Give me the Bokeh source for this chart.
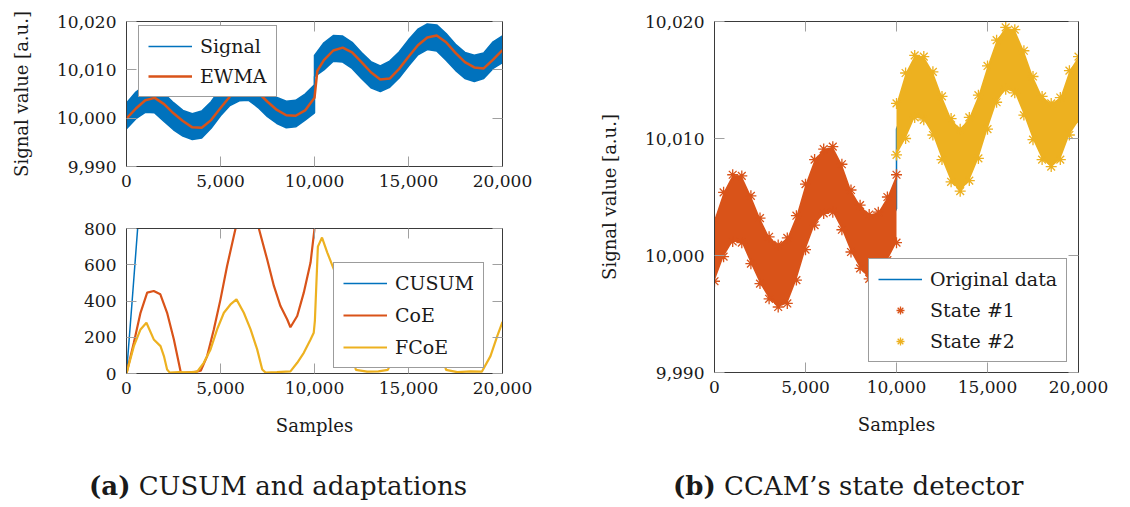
from bokeh.plotting import figure
from bokeh.models import (Range1d, LinearAxis, NumeralTickFormatter, FixedTicker, Div,
                          Legend, LegendItem, CustomJSTickFormatter, ColumnDataSource)
from bokeh.layouts import row, column
from bokeh.embed import file_html
from bokeh.resources import INLINE

FONT = "DejaVu Serif"
TXT = "#1a1a1a"
FRAME = "#3a3a3a"
TICK = "#a0a0a0"
BLUE = "#0072BD"
ORANGE = "#D95319"
YELLOW = "#EDB120"

# ---------------- data ----------------
# signal envelope, state #1 (samples 0..10000) and state #2 (10000..20000)
state1_x = [0, 500, 1000, 1500, 2000, 2500, 3000, 3500, 4000, 4500, 5000,
            5500, 6000, 6500, 7000, 7500, 8000, 8500, 9000, 9500, 10000]
state1_hi = [10003.1, 10005.4, 10006.9, 10006.8, 10005.1, 10003.2, 10001.6, 10000.9, 10001.5, 10003.4, 10006.1,
             10008.2, 10009.1, 10009.3, 10007.8, 10005.6, 10004.3, 10003.5, 10003.7, 10005.0, 10006.9]
state1_lo = [9997.8, 9999.9, 10001.2, 10001.1, 9999.3, 9997.6, 9996.3, 9995.6, 9995.9, 9997.9, 10000.5,
             10002.6, 10003.6, 10003.7, 10002.2, 10000.3, 9998.9, 9998.0, 9998.2, 9999.6, 10001.1]
state2_x = [10000, 10500, 11000, 11500, 12000, 12500, 13000, 13500, 14000, 14500, 15000,
            15500, 16000, 16500, 17000, 17500, 18000, 18500, 19000, 19500, 20000]
state2_hi = [10013.0, 10015.6, 10017.1, 10017.0, 10015.7, 10013.6, 10011.7, 10010.8, 10011.8, 10013.7, 10016.2,
             10018.4, 10019.5, 10019.3, 10017.5, 10015.3, 10013.6, 10013.0, 10013.5, 10015.8, 10017.0]
state2_lo = [10008.6, 10010.0, 10011.8, 10011.6, 10010.3, 10008.2, 10006.3, 10005.5, 10006.4, 10008.3, 10010.8,
             10013.1, 10014.2, 10013.9, 10012.0, 10009.9, 10008.2, 10007.6, 10008.2, 10010.3, 10011.5]

ewma_x = [0, 500, 1000, 1500, 2000, 2500, 3000, 3500, 4000, 4500, 5000, 5500, 6000, 6500, 7000,
          7500, 8000, 8500, 9000, 9500, 10000, 10150, 10500, 11000, 11500, 12000, 12500, 13000,
          13500, 14000, 14500, 15000, 15500, 16000, 16500, 17000, 17500, 18000, 18500, 19000,
          19500, 20000]
ewma_y = [9999.9, 10002.0, 10003.7, 10004.2, 10002.9, 10001.0, 9999.4, 9998.1, 9998.0, 9999.6,
          10002.1, 10004.5, 10006.0, 10006.3, 10005.3, 10003.4, 10001.7, 10000.6, 10000.5, 10001.6,
          10004.2, 10009.8, 10012.0, 10014.0, 10014.6, 10013.6, 10011.6, 10009.5, 10008.0, 10008.2,
          10010.2, 10012.7, 10015.1, 10016.7, 10017.1, 10015.7, 10013.5, 10011.6, 10010.5, 10010.3,
          10012.1, 10014.1]

cusum_x = [0, 300, 600, 900]
cusum_y = [0, 400, 810, 1220]

coe_x = [0, 390, 745, 1100, 1450, 1800, 2160, 2520, 2900, 3200, 3600, 3950, 4290, 4645, 5000,
         5350, 5800, 6400, 7040, 7480, 7840, 8190, 8550, 8720, 9080, 9430, 9790, 9990, 10100]
coe_y = [0, 170, 335, 446, 455, 437, 335, 188, 0, 5, 8, 15, 96, 243, 409,
         593, 800, 960, 800, 630, 483, 372, 298, 255, 317, 446, 612, 790, 1700]

fcoe_x = [0, 390, 745, 1060, 1450, 1810, 1990, 2160, 2300, 2800, 3300, 3760, 4110, 4470, 4820,
          5180, 5530, 5850, 6240, 6600, 6950, 7220, 7400, 8000, 8720, 9080, 9430, 9790, 9960,
          10020, 10180, 10400, 10680, 11030, 11600, 12200, 12800, 13400, 13900, 14500, 15300,
          15800, 16400, 17000, 17600, 18300, 18900, 19360, 19720, 20000]
fcoe_y = [0, 151, 243, 280, 188, 151, 96, 22, 5, 8, 6, 10, 59, 133, 243,
          335, 381, 409, 335, 243, 133, 22, 5, 8, 12, 59, 114, 188, 225,
          290, 700, 750, 667, 575, 300, 20, 10, 12, 20, 150, 380,
          420, 250, 20, 8, 12, 10, 96, 206, 285]

x_ticks = [0, 5000, 10000, 15000, 20000]
sig_ticks = [9990, 10000, 10010, 10020]
det_ticks = [0, 200, 400, 600, 800]

caption_a = ("(a)", "CUSUM and adaptations")
caption_b = ("(b)", "CCAM\u2019s state detector")


# ---------------- helpers ----------------
def make_fig(width, height, yr, left, right, top, bottom):
    p = figure(width=width, height=height, x_range=Range1d(0, 20000), y_range=Range1d(*yr),
               output_backend="svg", toolbar_location=None,
               min_border_left=left, min_border_right=right,
               min_border_top=top, min_border_bottom=bottom)
    p.xgrid.visible = False
    p.ygrid.visible = False
    p.outline_line_color = FRAME
    p.background_fill_color = "white"
    p.border_fill_color = "white"
    return p


def style_axis(ax, ticks, fmt, labels=True):
    ax.ticker = FixedTicker(ticks=ticks)
    ax.formatter = fmt if labels else CustomJSTickFormatter(code="return ''")
    ax.major_tick_in = 10
    ax.major_tick_out = 0
    ax.minor_tick_line_color = None
    ax.major_tick_line_color = TICK
    ax.major_tick_line_width = 1
    ax.axis_line_color = FRAME
    ax.axis_line_width = 1
    ax.major_label_text_font = FONT
    ax.major_label_text_font_size = "17px"
    ax.major_label_text_color = TXT
    ax.axis_label_text_font = FONT
    ax.axis_label_text_font_size = "18px"
    ax.axis_label_text_font_style = "normal"
    ax.axis_label_text_color = TXT


def all_axes(p, yticks, yfmt, xlabel=None, ylabel=None):
    style_axis(p.xaxis[0], x_ticks, NumeralTickFormatter(format="0,0"))
    style_axis(p.yaxis[0], yticks, yfmt)
    p.xaxis[0].major_label_standoff = 8
    p.yaxis[0].major_label_standoff = 10
    if xlabel:
        p.xaxis[0].axis_label = xlabel
        p.xaxis[0].axis_label_standoff = 18
    if ylabel:
        p.yaxis[0].axis_label = ylabel
        p.yaxis[0].axis_label_standoff = 22
    top = LinearAxis()
    style_axis(top, x_ticks, None, labels=False)
    top.major_label_standoff = 0
    p.add_layout(top, "above")
    right = LinearAxis()
    style_axis(right, yticks, None, labels=False)
    right.major_label_standoff = 0
    p.add_layout(right, "right")


def make_legend(items, loc, spacing):
    lg = Legend(items=items, location=loc)
    lg.label_text_font = FONT
    lg.label_text_font_size = "19px"
    lg.label_text_color = TXT
    lg.border_line_color = FRAME
    lg.border_line_width = 1
    lg.background_fill_alpha = 1
    lg.glyph_width = 44
    lg.glyph_height = 20
    lg.label_height = 20
    lg.label_standoff = 8
    lg.padding = 9
    lg.spacing = spacing
    lg.margin = 0
    return lg


def caption(parts, width, pad_left):
    html = ('<div style="padding-left:%dpx;padding-top:22px;font-family:DejaVu Serif,serif;'
            'font-size:26px;color:%s;white-space:nowrap;line-height:28px">'
            '<b>%s</b> %s</div>' % (pad_left, TXT, parts[0], parts[1]))
    return Div(text=html, width=width, height=57, margin=(0, 0, 0, 0),
               styles={"font-family": "DejaVu Serif, serif", "font-size": "26px"})


# ---------------- (a) top: signal + EWMA ----------------
sig_x = state1_x + state2_x
sig_hi = state1_hi + state2_hi
sig_lo = state1_lo + state2_lo

p1 = make_fig(560, 200, (9990, 10020), 126, 58, 21, 34)
p1.varea(x=sig_x, y1=sig_lo, y2=sig_hi, fill_color=BLUE)
sig_line = p1.line(sig_x, sig_hi, line_color=BLUE, line_width=1.5)
p1.line(sig_x, sig_lo, line_color=BLUE, line_width=1.5)
ewma_line = p1.line(ewma_x, ewma_y, line_color=ORANGE, line_width=2.5)
all_axes(p1, sig_ticks, NumeralTickFormatter(format="0,0"), ylabel="Signal value [a.u.]")
p1.add_layout(make_legend([LegendItem(label="Signal", renderers=[sig_line]),
                           LegendItem(label="EWMA", renderers=[ewma_line])], (12, 69), 8))

# ---------------- (a) bottom: detectors ----------------
p2 = make_fig(560, 250, (0, 800), 126, 58, 28, 77)
r_cusum = p2.line(cusum_x, cusum_y, line_color=BLUE, line_width=1.5)
r_coe = p2.line(coe_x, coe_y, line_color=ORANGE, line_width=2.2)
r_fcoe = p2.line(fcoe_x, fcoe_y, line_color=YELLOW, line_width=2.2)
all_axes(p2, det_ticks, NumeralTickFormatter(format="0"), xlabel="Samples")
p2.add_layout(make_legend([LegendItem(label="CUSUM", renderers=[r_cusum]),
                           LegendItem(label="CoE", renderers=[r_coe]),
                           LegendItem(label="FCoE", renderers=[r_fcoe])], (207, 5), 10))

# ---------------- (b) state detector ----------------
p3 = make_fig(570, 450, (9990, 10020), 154, 52, 21, 78)
mid1 = [(a + b) / 2 for a, b in zip(state1_hi, state1_lo)]
mid2 = [(a + b) / 2 for a, b in zip(state2_hi, state2_lo)]
r_orig = p3.line(state1_x + state2_x, mid1 + mid2, line_color=BLUE, line_width=1.5)
p3.varea(x=state1_x, y1=state1_lo, y2=state1_hi, fill_color=ORANGE)
p3.varea(x=state2_x, y1=state2_lo, y2=state2_hi, fill_color=YELLOW)
s1 = ColumnDataSource(dict(x=state1_x + state1_x, y=state1_hi + state1_lo))
s2 = ColumnDataSource(dict(x=state2_x + state2_x, y=state2_hi + state2_lo))
r_s1 = p3.scatter("x", "y", source=s1, marker="asterisk", size=11, line_color=ORANGE, line_width=1.3)
r_s2 = p3.scatter("x", "y", source=s2, marker="asterisk", size=11, line_color=YELLOW, line_width=1.3)
all_axes(p3, sig_ticks, NumeralTickFormatter(format="0,0"), xlabel="Samples", ylabel="Signal value [a.u.]")
p3.add_layout(make_legend([LegendItem(label="Original data", renderers=[r_orig]),
                           LegendItem(label="State #1", renderers=[r_s1]),
                           LegendItem(label="State #2", renderers=[r_s2])], (154, 10), 9))

cap_a = caption(caption_a, 560, 89)
cap_b = caption(caption_b, 570, 113)

layout = column(row(column(p1, p2), p3), row(cap_a, cap_b))
open("out.html", "w").write(file_html(layout, INLINE))
